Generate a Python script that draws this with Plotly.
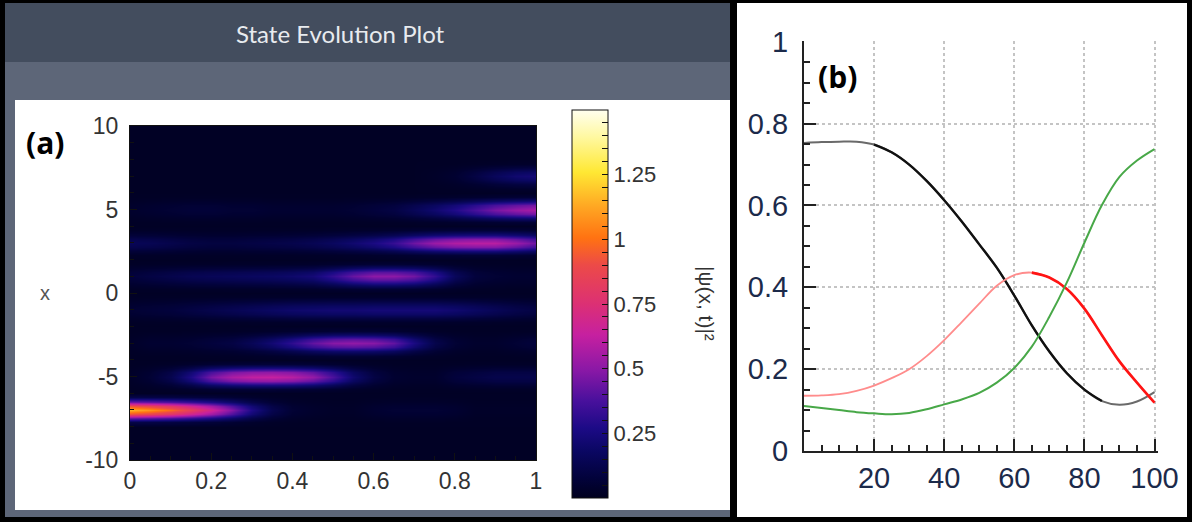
import numpy as np
import plotly.graph_objects as go

W, H = 1196, 526

# ---- panel (a): |psi(x,t)|^2, one list per bright band (value along t) ----
t_vals = [round(0.05 * i, 2) for i in range(21)]
band_centers = [-7, -5, -3, -1, 1, 3, 5, 7]
band_m7 = [1.15, 1.08, 0.98, 0.84, 0.68, 0.48, 0.27, 0.13, 0.06, 0.04, 0.03, 0.03, 0.05, 0.06, 0.06, 0.06, 0.05, 0.03, 0.03, 0.03, 0.03]
band_m5 = [0.03, 0.06, 0.13, 0.27, 0.46, 0.57, 0.62, 0.63, 0.60, 0.52, 0.38, 0.21, 0.10, 0.05, 0.04, 0.04, 0.08, 0.10, 0.12, 0.12, 0.12]
band_m3 = [0.03, 0.05, 0.05, 0.06, 0.08, 0.10, 0.15, 0.22, 0.31, 0.42, 0.49, 0.51, 0.49, 0.42, 0.26, 0.12, 0.06, 0.04, 0.04, 0.06, 0.08]
band_m1 = [0.06, 0.07, 0.08, 0.10, 0.12, 0.14, 0.16, 0.18, 0.20, 0.21, 0.22, 0.22, 0.23, 0.23, 0.23, 0.23, 0.21, 0.18, 0.15, 0.12, 0.10]
band_p1 = [0.08, 0.10, 0.12, 0.14, 0.15, 0.16, 0.17, 0.18, 0.20, 0.23, 0.32, 0.43, 0.50, 0.50, 0.45, 0.32, 0.16, 0.08, 0.06, 0.05, 0.05]
band_p3 = [0.15, 0.14, 0.12, 0.10, 0.09, 0.09, 0.10, 0.11, 0.12, 0.14, 0.17, 0.21, 0.26, 0.33, 0.44, 0.53, 0.58, 0.60, 0.60, 0.53, 0.44]
band_p5 = [0.04, 0.05, 0.06, 0.07, 0.07, 0.06, 0.06, 0.05, 0.05, 0.05, 0.05, 0.06, 0.08, 0.10, 0.15, 0.21, 0.28, 0.37, 0.46, 0.52, 0.56]
band_p7 = [0.02, 0.02, 0.02, 0.02, 0.02, 0.02, 0.02, 0.02, 0.02, 0.02, 0.02, 0.02, 0.02, 0.02, 0.02, 0.03, 0.05, 0.10, 0.16, 0.21, 0.23]
bands = [band_m7, band_m5, band_m3, band_m1, band_p1, band_p3, band_p5, band_p7]
# cross-section of a band (distance from centre -> share of the peak)
profile_dist = [0.0, 0.25, 0.5, 0.75]
profile_share = [1.0, 0.8, 0.38, 0.08]
background = 0.02

# colour bar
cs_pos = [0.0, 0.05, 0.12, 0.18, 0.25, 0.33, 0.42, 0.5, 0.6, 0.67, 0.75, 0.84, 0.93, 1.0]
cs_col = ["#00001e", "#02023a", "#0a0762", "#1c0a86", "#48109c", "#8a18a6", "#c620a0",
          "#dc3074", "#ec4a48", "#ff7212", "#ffa622", "#ffe834", "#fff8a0", "#ffffef"]
cb_ticks = [round(0.05 * i, 2) for i in range(1, 30)]
cb_labels = {0.25: "0.25", 0.5: "0.5", 0.75: "0.75", 1.0: "1", 1.25: "1.25"}

x_ticks = [0, 0.2, 0.4, 0.6, 0.8, 1]
x_labels = ["0", "0.2", "0.4", "0.6", "0.8", "1"]
y_ticks = [-10, -5, 0, 5, 10]
y_labels = ["-10", "-5", "0", "5", "10"]

# ---- panel (b) ----
step = [5 * i for i in range(21)]
black = [0.753, 0.755, 0.756, 0.756, 0.749, 0.730, 0.700, 0.660, 0.613, 0.561, 0.505,
         0.448, 0.380, 0.307, 0.243, 0.190, 0.150, 0.122, 0.113, 0.121, 0.144]
red = [0.135, 0.136, 0.139, 0.147, 0.160, 0.178, 0.200, 0.232, 0.271, 0.315, 0.360,
       0.404, 0.430, 0.436, 0.424, 0.396, 0.348, 0.283, 0.219, 0.167, 0.118]
green = [0.110, 0.105, 0.100, 0.095, 0.092, 0.090, 0.093, 0.102, 0.114, 0.126, 0.142,
         0.167, 0.203, 0.255, 0.328, 0.412, 0.509, 0.601, 0.670, 0.710, 0.738]
b_xticks = [20, 40, 60, 80, 100]
b_yticks = [0, 0.2, 0.4, 0.6, 0.8, 1]
b_ylabels = ["0", "0.2", "0.4", "0.6", "0.8", "1"]


def px(x):
    return x / W


def py(y):
    return 1 - y / H


# build the z table from the band lists
x_rows = np.round(np.arange(-10, 10.001, 0.25), 2)
z = []
for xr in x_rows:
    row = [background] * len(t_vals)
    for c, vals in zip(band_centers, bands):
        d = abs(xr - c)
        if d in profile_dist:
            share = profile_share[profile_dist.index(d)]
            row = [max(r, background + share * (v - background)) for r, v in zip(row, vals)]
    z.append(row)

fig = go.Figure()

fig.add_trace(go.Heatmap(
    x=t_vals, y=x_rows, z=z, zsmooth="best", zmin=0, zmax=1.5,
    colorscale=[[p, c] for p, c in zip(cs_pos, cs_col)],
    xaxis="x", yaxis="y",
    colorbar=dict(
        x=px(572), xanchor="left", y=py(304), yanchor="middle",
        lenmode="fraction", len=388 / H, thickness=36, xpad=0, ypad=0,
        outlinewidth=1, outlinecolor="#111",
        tickmode="array", tickvals=cb_ticks,
        ticktext=[cb_labels.get(v, "") for v in cb_ticks],
        ticks="inside", ticklen=6, tickcolor="#111",
        tickfont=dict(family="Liberation Sans", size=22, color="#333"),
    ),
    hoverinfo="skip",
))

# light trace for the whole curve, darker overlay where the original gets heavier
fig.add_trace(go.Scatter(x=step, y=black, mode="lines", line=dict(color="#6a6a6a", width=2, shape="spline"),
                         xaxis="x2", yaxis="y2", showlegend=False))
fig.add_trace(go.Scatter(x=step[4:18], y=black[4:18], mode="lines", line=dict(color="#111", width=2.4, shape="spline"),
                         xaxis="x2", yaxis="y2", showlegend=False))
fig.add_trace(go.Scatter(x=step, y=red, mode="lines", line=dict(color="#ff8c8c", width=1.8, shape="spline"),
                         xaxis="x2", yaxis="y2", showlegend=False))
fig.add_trace(go.Scatter(x=step[13:], y=red[13:], mode="lines", line=dict(color="#ff1414", width=2.6, shape="spline"),
                         xaxis="x2", yaxis="y2", showlegend=False))
fig.add_trace(go.Scatter(x=step, y=green, mode="lines", line=dict(color="#48a848", width=2, shape="spline"),
                         xaxis="x2", yaxis="y2", showlegend=False))

frame = "#5d6678"
shapes = [
    dict(x0=px(5), x1=px(730), y0=py(3), y1=py(62), fillcolor="#434d5e"),
    dict(x0=px(5), x1=px(730), y0=py(62), y1=py(100), fillcolor=frame),
    dict(x0=px(5), x1=px(15), y0=py(100), y1=py(517), fillcolor=frame),
    dict(x0=px(5), x1=px(730), y0=py(510), y1=py(517), fillcolor=frame),
    dict(x0=0, x1=px(5), y0=py(0), y1=py(522), fillcolor="#000"),
    dict(x0=0, x1=px(1192), y0=py(0), y1=py(3), fillcolor="#000"),
    dict(x0=px(1187), x1=px(1192), y0=py(0), y1=py(522), fillcolor="#000"),
    dict(x0=0, x1=px(1192), y0=py(517), y1=py(522), fillcolor="#000"),
    dict(x0=px(730), x1=px(737), y0=py(0), y1=py(522), fillcolor="#000"),
]
for s in shapes:
    s.update(type="rect", xref="paper", yref="paper", line_width=0, layer="below")

annotations = [
    dict(text="State Evolution Plot", x=px(340), y=py(33), font=dict(family="Lato", size=24, color="#e8ebef")),
    dict(text="<b>(a)</b>", x=px(45), y=py(142), font=dict(family="Open Sans", size=30, color="#000")),
    dict(text="<b>(b)</b>", x=px(837), y=py(77), font=dict(family="Open Sans", size=30, color="#000")),
    dict(text="x", x=px(45), y=py(293), font=dict(family="Liberation Sans", size=20, color="#555")),
    dict(text="|ψ(x, t)|²", x=px(707), y=py(303), textangle=90,
         font=dict(family="Liberation Sans", size=21, color="#333")),
]
for a in annotations:
    a.update(xref="paper", yref="paper", showarrow=False, xanchor="center", yanchor="middle")

tick_a = dict(family="Liberation Sans", size=23, color="#333")
tick_b = dict(family="Liberation Sans", size=29, color="#1c2a4a")

fig.update_layout(
    width=W, height=H, margin=dict(l=0, r=0, t=0, b=0, pad=0, autoexpand=False),
    paper_bgcolor="white", plot_bgcolor="rgba(0,0,0,0)",
    shapes=shapes, annotations=annotations, showlegend=False,
    xaxis=dict(domain=[px(130), px(536)], range=[0, 1], anchor="y", automargin=False,
               tickvals=x_ticks, ticktext=x_labels,
               ticks="inside", ticklen=7, tickcolor="#111", tickfont=tick_a,
               minor=dict(dtick=0.05, tick0=0, ticks="inside", ticklen=4, tickcolor="#111", showgrid=False),
               showline=True, linecolor="#111", linewidth=1, mirror=True,
               showgrid=False, zeroline=False),
    yaxis=dict(domain=[py(460), py(126)], range=[-10, 10], anchor="x", automargin=False,
               tickvals=y_ticks, ticktext=y_labels,
               ticks="inside", ticklen=7, tickcolor="#111", tickfont=tick_a,
               minor=dict(dtick=1, tick0=0, ticks="inside", ticklen=4, tickcolor="#111", showgrid=False),
               showline=True, linecolor="#111", linewidth=1, mirror=True,
               showgrid=False, zeroline=False, ticklabelstandoff=6),
    xaxis2=dict(domain=[px(804), px(1158)], range=[0, 101], anchor="y2", automargin=False,
                tickvals=b_xticks, ticks="inside", ticklen=12, tickwidth=2, tickcolor="#222",
                tickfont=tick_b,
                minor=dict(dtick=5, tick0=0, ticks="inside", ticklen=6, tickwidth=1.5, tickcolor="#222", showgrid=False),
                showline=True, linecolor="#222", linewidth=2,
                showgrid=True, gridcolor="#c4c4c4", griddash="dot", gridwidth=1.5, zeroline=False),
    yaxis2=dict(domain=[py(451), py(41)], range=[0, 1.002], anchor="x2", automargin=False,
                tickvals=b_yticks, ticktext=b_ylabels,
                ticks="inside", ticklen=12, tickwidth=2, tickcolor="#222", tickfont=tick_b,
                minor=dict(dtick=0.05, tick0=0, ticks="inside", ticklen=6, tickwidth=1.5, tickcolor="#222", showgrid=False),
                showline=True, linecolor="#222", linewidth=2,
                showgrid=True, gridcolor="#c4c4c4", griddash="dot", gridwidth=1.5, zeroline=False,
                ticklabelstandoff=8),
)

fig.write_html("out.html", config={"displayModeBar": False},
               post_script="document.body.style.margin='0';document.body.style.overflow='hidden';")
